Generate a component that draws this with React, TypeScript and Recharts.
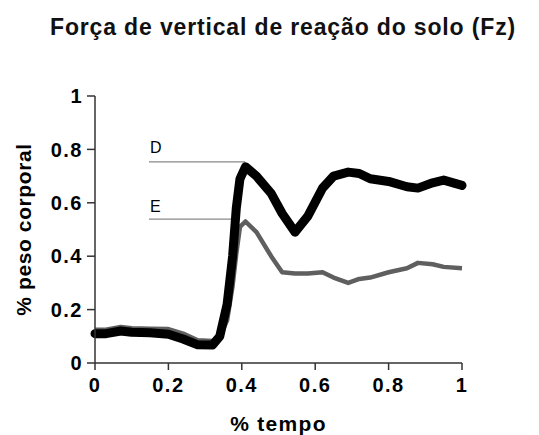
import { LineChart, Line, XAxis, YAxis, ReferenceLine } from "recharts";

// % tempo
const tempo = [
  0, 0.03, 0.07, 0.1, 0.15, 0.2, 0.24, 0.28, 0.32, 0.34, 0.36, 0.375, 0.385, 0.395, 0.41,
  0.44, 0.48, 0.51, 0.545, 0.58, 0.62, 0.65, 0.69, 0.72, 0.75, 0.8, 0.85, 0.88, 0.92, 0.95, 1,
];

// lado D (preto)
const ladoD = [
  0.11, 0.11, 0.12, 0.115, 0.113, 0.108, 0.09, 0.068, 0.067, 0.1, 0.22, 0.4, 0.58, 0.69, 0.735,
  0.7, 0.635, 0.56, 0.49, 0.55, 0.655, 0.7, 0.715, 0.71, 0.69, 0.68, 0.66, 0.655, 0.675, 0.685, 0.665,
];

// lado E (cinza)
const ladoE = [
  0.125, 0.125, 0.135, 0.13, 0.128, 0.127, 0.11, 0.085, 0.082, 0.1, 0.16, 0.29, 0.41, 0.51, 0.53,
  0.49, 0.4, 0.34, 0.335, 0.335, 0.34, 0.32, 0.3, 0.315, 0.32, 0.34, 0.355, 0.375, 0.37, 0.36, 0.355,
];

const ticks = [0, 0.2, 0.4, 0.6, 0.8, 1];

// picos marcados com linhas horizontais
const picoD = { x0: 0.147, x1: 0.409, y: 0.753 };
const picoE = { x0: 0.147, x1: 0.395, y: 0.539 };

const data = tempo.map((t, i) => ({ t, D: ladoD[i], E: ladoE[i] }));

const font = "'Liberation Sans', Arial, sans-serif";

const peakLabel = (text: string, dy: number) => (props: any) => {
  const { viewBox } = props;
  return (
    <text x={viewBox.x + 1} y={viewBox.y - dy} fontFamily={font} fontSize={16} fill="#000">
      {text}
    </text>
  );
};

const tickStyle = { fill: "#000", fontFamily: font, fontSize: 20, fontWeight: "bold", letterSpacing: 1.5 };

export default function App() {
  return (
    <div style={{ position: "absolute", left: 0, top: 0, width: 539, height: 435, background: "#fff" }}>
      <svg width={539} height={60} style={{ position: "absolute", left: 0, top: 0 }}>
        <text x={283} y={35} textAnchor="middle" fontFamily={font} fontSize={23} fontWeight="bold" letterSpacing={0.85} fill="#111">
          Força de vertical de reação do solo (Fz)
        </text>
      </svg>
      <LineChart
        width={539}
        height={435}
        data={data}
        margin={{ top: 96, right: 77, bottom: 0, left: 0 }}
        style={{ position: "absolute", left: 0, top: 0 }}
      >
        <XAxis
          dataKey="t"
          type="number"
          domain={[0, 1]}
          ticks={ticks}
          height={72}
          tickSize={7}
          tickMargin={8}
          axisLine={{ stroke: "#333", strokeWidth: 1.5 }}
          tickLine={{ stroke: "#333", strokeWidth: 1.5 }}
          tick={tickStyle}
          label={{
            value: "% tempo",
            position: "insideBottom",
            offset: 4,
            fill: "#000",
            fontFamily: font,
            fontSize: 21,
            fontWeight: "bold",
            letterSpacing: 1.3,
          }}
        />
        <YAxis
          type="number"
          domain={[0, 1]}
          ticks={ticks}
          width={95}
          tickSize={8}
          tickMargin={4}
          axisLine={{ stroke: "#333", strokeWidth: 1.5 }}
          tickLine={{ stroke: "#333", strokeWidth: 1.5 }}
          tick={tickStyle}
          label={{
            value: "% peso corporal",
            angle: -90,
            position: "insideLeft",
            offset: 24,
            fill: "#000",
            fontFamily: font,
            fontSize: 21,
            fontWeight: "bold",
            letterSpacing: 0.6,
            style: { textAnchor: "middle" },
          }}
        />
        <ReferenceLine
          segment={[{ x: picoD.x0, y: picoD.y }, { x: picoD.x1, y: picoD.y }]}
          stroke="#888"
          strokeWidth={1.2}
          label={peakLabel("D", 9)}
        />
        <ReferenceLine
          segment={[{ x: picoE.x0, y: picoE.y }, { x: picoE.x1, y: picoE.y }]}
          stroke="#888"
          strokeWidth={1.2}
          label={peakLabel("E", 7)}
        />
        <Line
          dataKey="E"
          type="linear"
          stroke="#5f5f5f"
          strokeWidth={4.5}
          strokeLinejoin="round"
          dot={false}
          isAnimationActive={false}
        />
        <Line
          dataKey="D"
          type="linear"
          stroke="#000"
          strokeWidth={9}
          strokeLinejoin="round"
          strokeLinecap="round"
          dot={false}
          isAnimationActive={false}
        />
      </LineChart>
    </div>
  );
}
